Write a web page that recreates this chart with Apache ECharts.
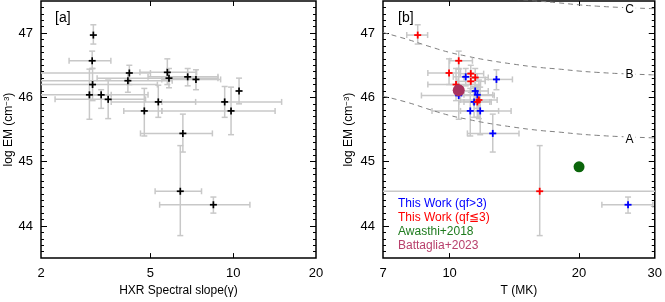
<!DOCTYPE html>
<html><head><meta charset="utf-8">
<script src="https://cdn.jsdelivr.net/npm/echarts@6/dist/echarts.min.js"></script>
<style>html,body{margin:0;padding:0;background:#fff}#c{width:665px;height:302px}</style>
</head><body><div id="c"></div>
<script>
// ---------- Panel [a]: HXR spectral slope vs log EM ----------
const leftGamma   = [3.10, 3.07, 3.08, 3.00, 3.31, 3.51, 4.19, 4.14, 4.75, 5.34, 5.76, 5.84, 6.83, 7.32, 6.56, 9.31, 9.82, 10.5, 6.42, 8.47];
const leftGammaLo = [3.10, 2.53, 1.5, 1.5, 3.0, 2.25, 1.5, 1.5, 4.0, 3.6, 4.58, 3.2, 4.9, 5.5, 4.6, 5.5, 5.5, 10.5, 5.2, 5.4];
const leftGammaHi = [3.10, 3.59, 5.3, 4.9, 3.6, 4.8, 5.0, 6.0, 5.5, 7.3, 7.36, 8.8, 8.8, 9.0, 8.4, 15.0, 14.2, 10.5, 7.67, 11.5];
const leftEM      = [46.97, 46.57, 46.20, 46.04, 46.04, 45.97, 46.38, 46.26, 45.79, 45.93, 46.39, 46.30, 46.32, 46.28, 45.44, 45.93, 45.79, 46.10, 44.54, 44.33];
const leftEMLo    = [46.83, 46.45, 45.95, 45.66, 45.83, 45.67, 46.20, 46.08, 45.40, 45.69, 46.20, 46.15, 46.18, 46.12, 45.15, 45.69, 45.42, 45.90, 43.85, 44.20];
const leftEMHi    = [47.13, 46.72, 46.45, 46.44, 46.12, 46.27, 46.50, 46.38, 46.14, 46.19, 46.60, 46.45, 46.45, 46.43, 45.74, 46.17, 46.16, 46.30, 45.25, 44.45];

// ---------- Panel [b]: T vs log EM ----------
const blueT    = [10.9, 12.85, 11.47, 11.6, 10.5, 11.4, 11.17, 11.78, 12.6, 26.0];
const blueTLo  = [10.2, 12.1, 10.7, 10.8, 8.6, 10.5, 9.1, 10.6, 11.0, 22.6];
const blueTHi  = [11.6, 14.0, 12.3, 12.6, 12.7, 12.4, 13.0, 13.9, 14.5, 29.7];
const blueEM   = [46.32, 46.28, 46.10, 46.04, 46.03, 45.93, 45.79, 45.79, 45.44, 44.33];
const blueEMLo = [46.18, 46.12, 45.90, 45.83, 45.66, 45.69, 45.40, 45.42, 45.15, 44.20];
const blueEMHi = [46.45, 46.43, 46.30, 46.12, 46.44, 46.17, 46.14, 46.16, 45.74, 44.45];

const redT    = [8.43, 10.5, 9.97, 11.2, 11.47, 11.2, 10.35, 11.7, 11.6, 16.2];
const redTLo  = [7.95, 10.0, 8.9, 10.5, 10.8, 10.4, 8.9, 10.6, 10.8, 6.0];
const redTHi  = [8.89, 11.3, 10.6, 12.0, 12.3, 12.1, 11.8, 12.9, 12.5, 40.0];
const redEM   = [46.97, 46.57, 46.38, 46.37, 46.31, 46.25, 46.20, 45.96, 45.93, 44.54];
const redEMLo = [46.83, 46.45, 46.20, 46.20, 46.15, 46.08, 45.95, 45.67, 45.69, 43.85];
const redEMHi = [47.13, 46.72, 46.60, 46.50, 46.45, 46.38, 46.45, 46.27, 46.19, 45.25];

const awasthiT = [20.0];  const awasthiEM = [44.92];
const battagliaT = [10.5]; const battagliaEM = [46.11];

// GOES-class curves A, B, C
const curveT  = [7, 8, 9, 10, 11, 12, 14, 16, 18, 20, 22, 25, 30];
const curveA  = [46.02, 45.92, 45.81, 45.72, 45.66, 45.61, 45.54, 45.49, 45.46, 45.43, 45.41, 45.39, 45.37];
const curveB  = [47.01, 46.90, 46.79, 46.70, 46.64, 46.59, 46.52, 46.47, 46.44, 46.41, 46.39, 46.37, 46.35];
const curveC  = [48.00, 47.90, 47.80, 47.70, 47.64, 47.59, 47.53, 47.50, 47.47, 47.44, 47.42, 47.40, 47.38];
const curveLabels = ['A', 'B', 'C'];
const curveLabelT = [26.2, 26.2, 26.2];
const curveLabelEM = [45.35, 46.35, 47.36];

// Tick labels
const leftXTicks  = [2, 5, 10, 20];
const rightXTicks = [7, 10, 20, 30];
const yTicks = [44, 45, 46, 47];
const yMin = 43.5, yMax = 47.5;

const legendNames = ['This Work (qf>3)', 'This Work (qf≦3)', 'Awasthi+2018', 'Battaglia+2023'];

// ---------- build ----------
const L = Math.log10;
const FONT = 'Liberation Sans';
const minorY = [];
for (let v = 43.6; v < 47.45; v += 0.1) { const r = Math.round(v * 10) / 10; if (Math.abs(r - Math.round(r)) > 1e-6) minorY.push(r); }

function errData(x, xl, xh, y, yl, yh) {
  return x.map((_, i) => [L(x[i]), y[i], L(xl[i]), L(xh[i]), yl[i], yh[i]]);
}
function errRender(params, api) {
  const x = api.value(0), y = api.value(1), xl = api.value(2), xh = api.value(3), yl = api.value(4), yh = api.value(5);
  const st = { stroke: '#c8c8c8', lineWidth: 1.5 };
  const cap = 3;
  const ch = [];
  if (yl !== yh) {
    const a = api.coord([x, yl]), b = api.coord([x, yh]);
    ch.push({ type: 'line', shape: { x1: a[0], y1: a[1], x2: b[0], y2: b[1] }, style: st });
    ch.push({ type: 'line', shape: { x1: a[0] - cap, y1: a[1], x2: a[0] + cap, y2: a[1] }, style: st });
    ch.push({ type: 'line', shape: { x1: b[0] - cap, y1: b[1], x2: b[0] + cap, y2: b[1] }, style: st });
  }
  if (xl !== xh) {
    const a = api.coord([xl, y]), b = api.coord([xh, y]);
    ch.push({ type: 'line', shape: { x1: a[0], y1: a[1], x2: b[0], y2: b[1] }, style: st });
    ch.push({ type: 'line', shape: { x1: a[0], y1: a[1] - cap, x2: a[0], y2: a[1] + cap }, style: st });
    ch.push({ type: 'line', shape: { x1: b[0], y1: b[1] - cap, x2: b[0], y2: b[1] + cap }, style: st });
  }
  return { type: 'group', children: ch };
}
function plusRender(color, s, w) {
  return function (params, api) {
    const c = api.coord([api.value(0), api.value(1)]);
    const st = { stroke: color, lineWidth: w };
    return { type: 'group', children: [
      { type: 'line', shape: { x1: c[0] - s, y1: c[1], x2: c[0] + s, y2: c[1] }, style: st },
      { type: 'line', shape: { x1: c[0], y1: c[1] - s, x2: c[0], y2: c[1] + s }, style: st }
    ]};
  };
}
function textRender(params, api) {
  const c = api.coord([api.value(0), api.value(1)]);
  return { type: 'text', x: c[0], y: c[1],
    style: { text: curveLabels[params.dataIndex], fill: '#000', font: '12px "Liberation Sans"',
      align: 'center', verticalAlign: 'middle', backgroundColor: '#fff', padding: [0, 2] } };
}
const pts = (x, y) => x.map((_, i) => [L(x[i]), y[i]]);

function xAxes(grid, ticks, name) {
  const inner = ticks.slice(1, -1).map(L);
  return [
    { gridIndex: grid, type: 'value', position: 'bottom', min: L(ticks[0]), max: L(ticks[ticks.length - 1]),
      axisLine: { show: false }, splitLine: { show: false },
      axisTick: { inside: true, length: 5, customValues: inner, lineStyle: { color: '#000', width: 1 } },
      axisLabel: { customValues: ticks.map(L), margin: 9, fontSize: 13, color: '#000', fontFamily: FONT,
        formatter: v => String(Math.round(Math.pow(10, v))) },
      name: name, nameLocation: 'middle', nameGap: 23,
      nameTextStyle: { fontSize: 12, color: '#000', fontFamily: FONT } },
    { gridIndex: grid, type: 'value', position: 'top', min: L(ticks[0]), max: L(ticks[ticks.length - 1]),
      axisLine: { show: false }, splitLine: { show: false }, axisLabel: { show: false },
      axisTick: { inside: true, length: 5, customValues: inner, lineStyle: { color: '#000', width: 1 } } }
  ];
}
function yAxes(grid, nameGap) {
  const base = { gridIndex: grid, type: 'value', min: yMin, max: yMax, axisLine: { show: false }, splitLine: { show: false } };
  return [
    Object.assign({}, base, { position: 'left',
      axisTick: { inside: true, length: 6, customValues: yTicks, lineStyle: { color: '#000' } },
      axisLabel: { customValues: yTicks, margin: 8, fontSize: 13, color: '#000', fontFamily: FONT },
      name: 'log EM (cm{sup|−3})', nameLocation: 'middle', nameGap: nameGap, nameRotate: 90,
      nameTextStyle: { fontSize: 12, color: '#000', fontFamily: FONT,
        rich: { sup: { fontSize: 8, verticalAlign: 'top', fontFamily: FONT, color: '#000' } } } }),
    Object.assign({}, base, { position: 'left', axisLabel: { show: false },
      axisTick: { inside: true, length: 3, customValues: minorY, lineStyle: { color: '#000' } } }),
    Object.assign({}, base, { position: 'right', axisLabel: { show: false },
      axisTick: { inside: true, length: 6, customValues: yTicks, lineStyle: { color: '#000' } } }),
    Object.assign({}, base, { position: 'right', axisLabel: { show: false },
      axisTick: { inside: true, length: 3, customValues: minorY, lineStyle: { color: '#000' } } })
  ];
}

const dash = { color: '#808080', width: 1, type: [5, 4] };
const curveSeries = [curveA, curveB, curveC].map((c) => ({
  type: 'line', xAxisIndex: 2, yAxisIndex: 4, data: pts(curveT, c), smooth: true, symbol: 'none',
  lineStyle: dash, silent: true, z: 2
}));

const option = {
  animation: false,
  textStyle: { fontFamily: FONT },
  title: [
    { text: '[a]', left: 50, top: 6, textStyle: { fontSize: 14, fontWeight: 'normal', color: '#000', fontFamily: FONT } },
    { text: '[b]', left: 393, top: 6, textStyle: { fontSize: 14, fontWeight: 'normal', color: '#000', fontFamily: FONT } }
  ],
  grid: [
    { left: 41, top: 1, width: 275, height: 265, show: true, borderColor: '#000', borderWidth: 1.5, backgroundColor: '#fff' },
    { left: 383, top: 1, width: 274, height: 265, show: true, borderColor: '#000', borderWidth: 1.5, backgroundColor: '#fff' }
  ],
  legend: {
    orient: 'vertical', left: 388, top: 192, itemWidth: 0, itemHeight: 14, itemGap: 1,
    selectedMode: false, icon: 'none',
    textStyle: { fontSize: 12, fontFamily: FONT },
    data: [
      { name: legendNames[0], icon: 'none', textStyle: { color: '#0000ff' } },
      { name: legendNames[1], icon: 'none', textStyle: { color: '#ff0000' } },
      { name: legendNames[2], icon: 'none', textStyle: { color: '#1e7b1e' } },
      { name: legendNames[3], icon: 'none', textStyle: { color: '#b8406c' } }
    ]
  },
  xAxis: xAxes(0, leftXTicks, 'HXR Spectral slope(γ)').concat(xAxes(1, rightXTicks, 'T (MK)')),
  yAxis: yAxes(0, 26).concat(yAxes(1, 28)),
  series: [
    { type: 'custom', xAxisIndex: 0, yAxisIndex: 0, clip: true, z: 1, silent: true,
      data: errData(leftGamma, leftGammaLo, leftGammaHi, leftEM, leftEMLo, leftEMHi), renderItem: errRender },
    { type: 'custom', xAxisIndex: 0, yAxisIndex: 0, clip: true, z: 3, silent: true,
      data: pts(leftGamma, leftEM), renderItem: plusRender('#000', 3.5, 1.7) },

    { type: 'custom', xAxisIndex: 2, yAxisIndex: 4, clip: true, z: 1, silent: true,
      data: errData(blueT, blueTLo, blueTHi, blueEM, blueEMLo, blueEMHi), renderItem: errRender },
    { type: 'custom', xAxisIndex: 2, yAxisIndex: 4, clip: true, z: 1, silent: true,
      data: errData(redT, redTLo, redTHi, redEM, redEMLo, redEMHi), renderItem: errRender },
    ...curveSeries,
    { type: 'custom', xAxisIndex: 2, yAxisIndex: 4, z: 4, silent: true,
      data: curveLabelT.map((t, i) => [L(t), curveLabelEM[i]]), renderItem: textRender },
    { name: legendNames[0], type: 'custom', xAxisIndex: 2, yAxisIndex: 4, clip: true, z: 3, silent: true,
      itemStyle: { color: '#0000ff' }, data: pts(blueT, blueEM), renderItem: plusRender('#0000ff', 3.5, 1.8) },
    { name: legendNames[1], type: 'custom', xAxisIndex: 2, yAxisIndex: 4, clip: true, z: 3, silent: true,
      itemStyle: { color: '#ff0000' }, data: pts(redT, redEM), renderItem: plusRender('#ff0000', 3.5, 1.8) },
    { name: legendNames[2], type: 'scatter', xAxisIndex: 2, yAxisIndex: 4, symbolSize: 11, z: 5, silent: true,
      itemStyle: { color: '#0b650b', opacity: 1 }, data: pts(awasthiT, awasthiEM) },
    { name: legendNames[3], type: 'scatter', xAxisIndex: 2, yAxisIndex: 4, symbolSize: 12, z: 5, silent: true,
      itemStyle: { color: '#a8325e', opacity: 1 }, data: pts(battagliaT, battagliaEM) }
  ]
};
const chart = echarts.init(document.getElementById('c'), null, { renderer: 'canvas' });
chart.setOption(option);
</script></body></html>
